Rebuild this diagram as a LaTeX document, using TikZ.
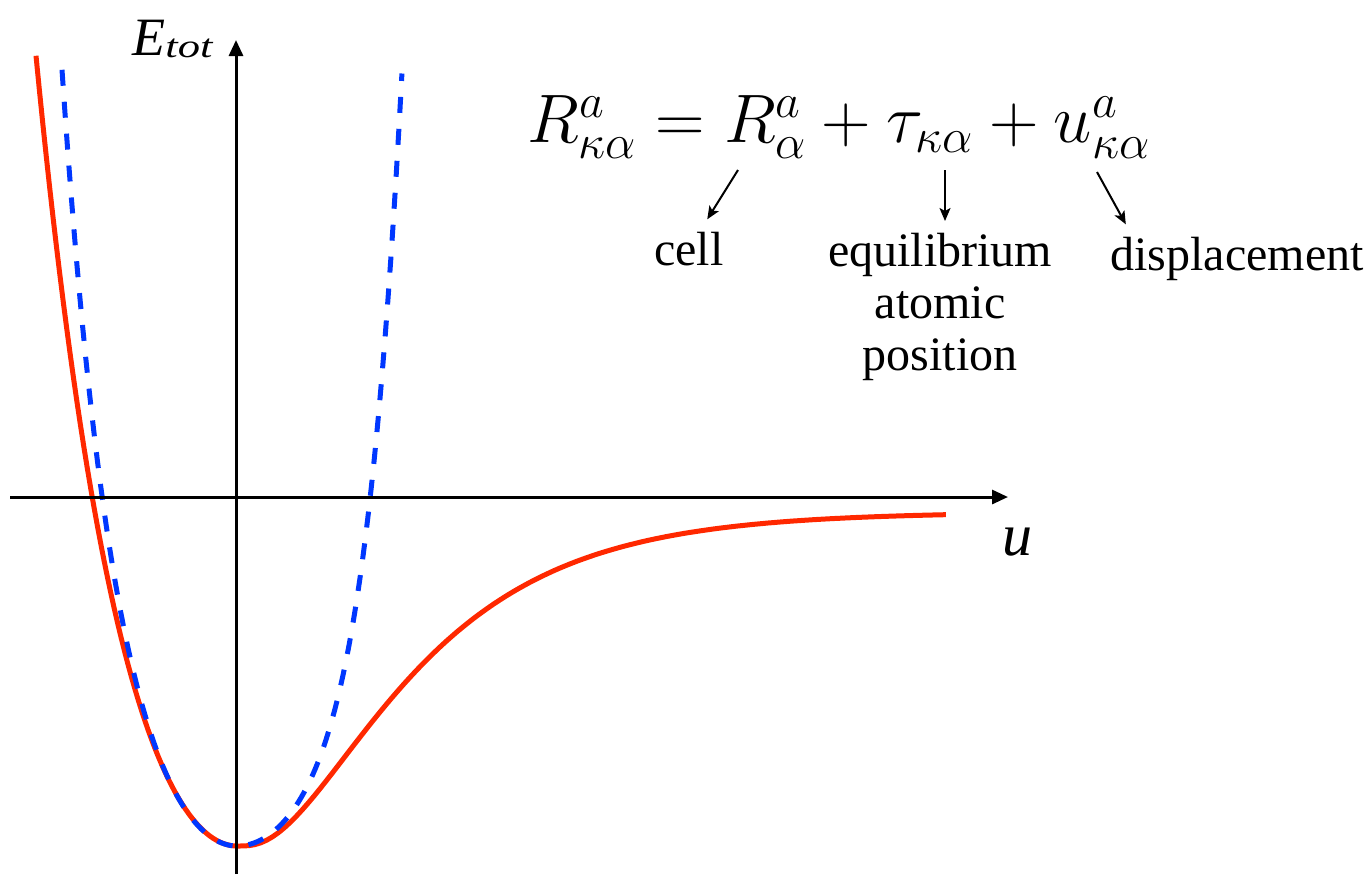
\documentclass[tikz,border=0pt]{standalone}
\usepackage{fix-cm}
\usepackage[no-math]{fontspec}
\setmainfont{Liberation Serif}
\usepackage{amsmath}
\usepackage{graphicx}
\usetikzlibrary{arrows.meta}
\usetikzlibrary{calc}
\usetikzlibrary{positioning}

\definecolor{morsered}{RGB}{255,40,0}
\definecolor{harmblue}{RGB}{0,55,255}

\begin{document}
\begin{tikzpicture}[x=0.5pt, y=-0.5pt,
    axisline/.style={line width=1.5pt, -{Triangle[length=8pt,width=7pt]}},
    pointer/.style={line width=1pt, -{Stealth[length=6.5pt,width=5.5pt,inset=1.5pt]}},
    lbl/.style={font=\fontsize{24}{26}\selectfont, inner sep=6pt, align=center},
    morse/.style={morsered, line width=2.5pt},
    harm/.style={harmblue, line width=2.5pt, dash pattern=on 8pt off 8pt}]
            \useasboundingbox (0,0) rectangle (1369,874);
            \def\xm{237}
            \def\ym{846}

            % Anharmonic potential (t = displacement / 100)
            \draw[morse] plot[domain=-2.01:0, samples=60, variable=\t]
                ({\xm+100*\t}, {\ym-(135*\t*\t+15*\t*\t*\t*\t)})
                -- plot[domain=0:7.09, samples=120, variable=\t]
                ({\xm+100*\t}, {\ym-334*(1-exp(-0.8*\t*\t/(\t+0.2)))^2});

            % Harmonic approximation
            \draw[harm] plot[domain=-1.75:0, samples=60, variable=\t]
                ({\xm+100*\t}, {\ym-(130*\t*\t+25*\t*\t*\t*\t+5*\t*\t*\t*\t*\t*\t)})
                -- plot[domain=0:1.65, samples=60, variable=\t]
                ({\xm+100*\t}, {\ym-(105*\t*\t+25*\t*\t*\t*\t+15*\t*\t*\t*\t*\t*\t)});

            % Axes
            \coordinate (xl) at (10,497);
            \coordinate (xr) at (1008,497);
            \coordinate (yb) at (236,874);
            \coordinate (yt) at (236,40);
            \draw[axisline] (xl) -- (xr);
            \draw[axisline] (yb) -- (yt);
            \node[anchor=base west, inner sep=0] (Elab) at (132,55)
                {\fontsize{27}{27}\selectfont\itshape E\raisebox{-1pt}{\fontsize{16.5}{17}\selectfont\scalebox{1.35}[1]{tot}}};
            \node[anchor=base west, inner sep=0] (ulab) at (1002,555)
                {\fontsize{30}{30}\selectfont\itshape u};

            % Position of an atom
            \node[anchor=base west, inner sep=0] (eqn) at (527,142)
                {\fontsize{34.3}{36}\selectfont $R^a_{\kappa\alpha} = R^a_{\alpha} + \tau_{\kappa\alpha} + u^a_{\kappa\alpha}$};
            \coordinate (Rstart) at (738,170);
            \coordinate (taustart) at (945,170);
            \coordinate (ustart) at (1097,172);

            \node[lbl, anchor=base] (cell) at (689,265) {cell};
            \node[lbl, anchor=north] (equil) at (940,221) {equilibrium\\atomic\\position};
            \node[lbl, anchor=base west] (disp) at (1098,270) {displacement};

            \draw[pointer] (Rstart) -- (cell);
            \draw[pointer] (taustart) -- (taustart |- equil.north);
            \draw[pointer] (ustart) -- ($(disp.north west)!0.1!(disp.north east)$);
        \end{tikzpicture}
\end{document}
